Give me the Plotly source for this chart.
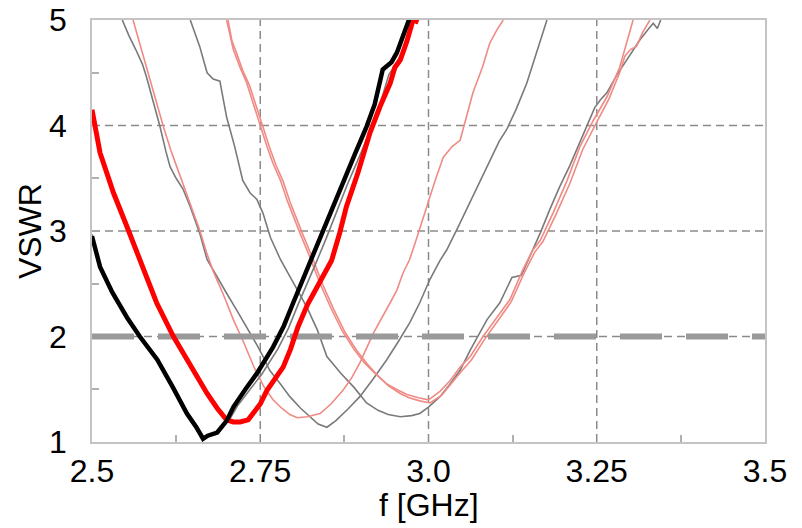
import plotly.graph_objects as go

# ---------------- data ----------------
black_f = [2.500, 2.512, 2.530, 2.552, 2.571, 2.597, 2.620, 2.641, 2.655, 2.665, 2.672, 2.686,
           2.700, 2.710, 2.728, 2.745, 2.769, 2.785, 2.799, 2.812, 2.824, 2.840, 2.855, 2.873,
           2.890, 2.908, 2.920, 2.932, 2.945, 2.953, 2.962, 2.972]
black_v = [2.95, 2.66, 2.42, 2.18, 2.00, 1.78, 1.52, 1.27, 1.14, 1.03, 1.06, 1.09,
           1.20, 1.33, 1.50, 1.65, 1.90, 2.10, 2.32, 2.52, 2.72, 2.95, 3.20, 3.48,
           3.72, 3.99, 4.20, 4.53, 4.60, 4.69, 4.85, 5.02]

grayk_f = [2.500, 2.512, 2.530, 2.552, 2.572, 2.598, 2.621, 2.642, 2.656, 2.666, 2.676, 2.690,
           2.705, 2.716, 2.735, 2.752, 2.776, 2.792, 2.806, 2.820, 2.833, 2.848, 2.863, 2.880,
           2.897, 2.914, 2.927, 2.941, 2.951, 2.960, 2.968, 2.978]
grayk_v = [2.97, 2.68, 2.44, 2.19, 2.01, 1.79, 1.53, 1.28, 1.15, 1.05, 1.07, 1.12,
           1.22, 1.34, 1.50, 1.64, 1.88, 2.08, 2.30, 2.50, 2.70, 2.93, 3.18, 3.45,
           3.70, 3.96, 4.18, 4.48, 4.58, 4.68, 4.84, 5.02]

red_f = [2.500, 2.505, 2.512, 2.522, 2.532, 2.552, 2.576, 2.596, 2.621, 2.641, 2.656, 2.671,
         2.686, 2.700, 2.710, 2.720, 2.732, 2.740, 2.750, 2.760, 2.772, 2.784, 2.795, 2.806,
         2.820, 2.838, 2.856, 2.868, 2.878, 2.895, 2.913, 2.928, 2.943, 2.950, 2.958, 2.968,
         2.977, 2.985]
red_v = [4.15, 3.95, 3.74, 3.55, 3.36, 3.04, 2.66, 2.32, 2.00, 1.78, 1.62, 1.46,
         1.32, 1.21, 1.19, 1.19, 1.21, 1.27, 1.36, 1.49, 1.60, 1.71, 1.88, 2.09,
         2.30, 2.50, 2.72, 2.98, 3.23, 3.55, 3.93, 4.18, 4.40, 4.55, 4.62, 4.80,
         5.00, 4.98]

gray1_f = [2.545, 2.555, 2.565, 2.575, 2.581, 2.590, 2.601, 2.610, 2.616, 2.625, 2.635, 2.646,
           2.660, 2.671, 2.685, 2.700, 2.715, 2.730, 2.745, 2.755, 2.764, 2.780, 2.794, 2.810,
           2.824, 2.836, 2.849, 2.862, 2.880, 2.898, 2.918, 2.938, 2.955, 2.972, 2.987, 3.002,
           3.017, 3.027, 3.045, 3.060, 3.072, 3.090, 3.105, 3.116, 3.130, 3.146, 3.160, 3.176]
gray1_v = [5.00, 4.85, 4.72, 4.58, 4.46, 4.25, 3.99, 3.75, 3.61, 3.50, 3.40, 3.23,
           2.98, 2.73, 2.57, 2.41, 2.25, 2.09, 1.92, 1.80, 1.68, 1.55, 1.43, 1.32,
           1.24, 1.17, 1.14, 1.20, 1.31, 1.43, 1.60, 1.78, 1.95, 2.13, 2.32, 2.54,
           2.72, 2.82, 3.05, 3.25, 3.42, 3.65, 3.85, 3.96, 4.15, 4.40, 4.68, 5.00]

gray2_f = [2.646, 2.660, 2.671, 2.680, 2.690, 2.700, 2.712, 2.724, 2.735, 2.745, 2.754, 2.765,
           2.780, 2.799, 2.819, 2.835, 2.849, 2.870, 2.889, 2.908, 2.925, 2.940, 2.958, 2.975,
           2.987, 3.000, 3.017, 3.032, 3.047, 3.062, 3.087, 3.106, 3.124, 3.138, 3.155, 3.166,
           3.180, 3.195, 3.210, 3.220, 3.235, 3.247, 3.255, 3.265, 3.280, 3.295, 3.305, 3.314,
           3.325, 3.334, 3.340, 3.345]
gray2_v = [5.00, 4.75, 4.50, 4.44, 4.42, 4.08, 3.80, 3.48, 3.36, 3.30, 3.17, 2.94,
           2.73, 2.51, 2.28, 2.06, 1.81, 1.65, 1.52, 1.37, 1.30, 1.26, 1.24, 1.25,
           1.27, 1.33, 1.43, 1.55, 1.68, 1.87, 2.16, 2.32, 2.56, 2.58, 2.82, 2.98,
           3.20, 3.42, 3.62, 3.77, 3.99, 4.17, 4.24, 4.31, 4.48, 4.62, 4.72, 4.81,
           4.90, 4.97, 4.92, 5.00]

pink1_f = [2.561, 2.571, 2.581, 2.594, 2.606, 2.618, 2.631, 2.645, 2.660, 2.670, 2.680, 2.695,
           2.710, 2.725, 2.740, 2.755, 2.769, 2.782, 2.794, 2.805, 2.820, 2.839, 2.855, 2.873,
           2.886, 2.898, 2.918, 2.943, 2.953, 2.962, 2.972, 2.985, 2.997, 3.010, 3.022, 3.035,
           3.047, 3.057, 3.066, 3.080, 3.091, 3.101, 3.111]
pink1_v = [5.00, 4.78, 4.56, 4.25, 3.99, 3.75, 3.52, 3.28, 3.01, 2.80, 2.62, 2.40,
           2.16, 1.95, 1.72, 1.53, 1.40, 1.32, 1.26, 1.23, 1.24, 1.27, 1.36, 1.49,
           1.61, 1.75, 2.03, 2.32, 2.44, 2.60, 2.73, 2.98, 3.23, 3.48, 3.70, 3.80,
           3.86, 4.10, 4.31, 4.55, 4.78, 4.90, 5.00]

pink2_f = [2.700, 2.705, 2.710, 2.720, 2.730, 2.740, 2.750, 2.760, 2.769, 2.780, 2.790, 2.800,
           2.809, 2.822, 2.839, 2.855, 2.872, 2.889, 2.905, 2.919, 2.938, 2.955, 2.968, 2.985,
           3.000, 3.017, 3.032, 3.047, 3.062, 3.081, 3.101, 3.121, 3.140, 3.155, 3.166, 3.185,
           3.206, 3.225, 3.245, 3.265, 3.284, 3.294, 3.304]
pink2_v = [5.00, 4.85, 4.72, 4.55, 4.40, 4.20, 3.99, 3.80, 3.64, 3.48, 3.29, 3.12,
           2.98, 2.78, 2.50, 2.27, 2.05, 1.88, 1.75, 1.66, 1.55, 1.49, 1.45, 1.42,
           1.40, 1.48, 1.58, 1.71, 1.81, 2.00, 2.18, 2.35, 2.63, 2.82, 2.91, 3.17,
           3.48, 3.80, 4.05, 4.27, 4.55, 4.78, 5.00]

pink3_f = [2.702, 2.708, 2.714, 2.724, 2.734, 2.744, 2.754, 2.764, 2.773, 2.784, 2.794, 2.804,
           2.813, 2.826, 2.843, 2.859, 2.876, 2.893, 2.909, 2.923, 2.941, 2.958, 2.971, 2.987,
           3.002, 3.019, 3.033, 3.049, 3.064, 3.084, 3.103, 3.123, 3.142, 3.158, 3.170, 3.189,
           3.210, 3.229, 3.249, 3.268, 3.284, 3.292, 3.300, 3.309, 3.318, 3.329]
pink3_v = [5.00, 4.80, 4.70, 4.52, 4.38, 4.18, 3.98, 3.79, 3.63, 3.47, 3.28, 3.11,
           2.97, 2.77, 2.49, 2.26, 2.04, 1.87, 1.74, 1.64, 1.53, 1.46, 1.42, 1.39,
           1.37, 1.44, 1.55, 1.67, 1.78, 1.98, 2.15, 2.33, 2.60, 2.80, 2.90, 3.15,
           3.45, 3.77, 4.02, 4.25, 4.50, 4.66, 4.72, 4.75, 4.88, 5.00]

vswr_limit = 2.0
x_tick_vals = [2.5, 2.75, 3.0, 3.25, 3.5]
x_tick_text = ["2.5", "2.75", "3.0", "3.25", "3.5"]
y_tick_vals = [1, 2, 3, 4, 5]
y_tick_text = ["1", "2", "3", "4", "5"]
x_minor = [2.625, 2.875, 3.125, 3.375]
y_minor = [1.5, 2.5, 3.5, 4.5]
x_grid = [2.75, 3.0, 3.25]
y_grid = [2, 3, 4]
x_range = [2.5, 3.5]
y_range = [1, 5]
x_title = "f [GHz]"
y_title = "VSWR"

# ---------------- figure ----------------
GRAY = "#7a7a7a"
PINK = "#f08a84"
FONT = "Liberation Sans, Arial, sans-serif"

fig = go.Figure()

thin = dict(mode="lines", hoverinfo="skip", showlegend=False)
fig.add_trace(go.Scatter(x=gray1_f, y=gray1_v, line=dict(color=GRAY, width=1.6), **thin))
fig.add_trace(go.Scatter(x=gray2_f, y=gray2_v, line=dict(color=GRAY, width=1.6), **thin))
fig.add_trace(go.Scatter(x=pink1_f, y=pink1_v, line=dict(color=PINK, width=1.6), **thin))
fig.add_trace(go.Scatter(x=pink2_f, y=pink2_v, line=dict(color=PINK, width=1.6), **thin))
fig.add_trace(go.Scatter(x=pink3_f, y=pink3_v, line=dict(color=PINK, width=1.6), **thin))
fig.add_trace(go.Scatter(x=grayk_f, y=grayk_v, line=dict(color=GRAY, width=1.6), **thin))

# thick dashed VSWR = 2 limit line
fig.add_trace(go.Scatter(x=x_range, y=[vswr_limit, vswr_limit], mode="lines",
                         line=dict(color="#9a9a9a", width=6, dash="42px,24px"),
                         hoverinfo="skip", showlegend=False))

fig.add_trace(go.Scatter(x=red_f, y=red_v, line=dict(color="#ff0000", width=5), **thin))
fig.add_trace(go.Scatter(x=black_f, y=black_v, line=dict(color="#000000", width=4.5), **thin))

# dashed grid
for xv in x_grid:
    fig.add_shape(type="line", x0=xv, x1=xv, y0=y_range[0], y1=y_range[1], xref="x", yref="y",
                  line=dict(color="#8a8a8a", width=1.5, dash="8px,5px"), layer="below")
for yv in y_grid:
    fig.add_shape(type="line", x0=x_range[0], x1=x_range[1], y0=yv, y1=yv, xref="x", yref="y",
                  line=dict(color="#8a8a8a", width=1.5, dash="8px,5px"), layer="below")

axis_common = dict(showgrid=False, zeroline=False, showline=True, linecolor="#c4c4c4",
                   linewidth=1.5, mirror=True, ticks="", tickfont=dict(family=FONT, size=32, color="#000"))

fig.update_xaxes(range=x_range, tickmode="array", tickvals=x_tick_vals, ticktext=x_tick_text,
                 ticklabelstandoff=0,
                 minor=dict(tickvals=x_minor, ticks="inside", ticklen=7, tickcolor="#b0b0b0", tickwidth=1.5),
                 **axis_common)
fig.update_yaxes(range=y_range, tickmode="array", tickvals=y_tick_vals, ticktext=y_tick_text,
                 ticklabelstandoff=17,
                 minor=dict(tickvals=y_minor, ticks="inside", ticklen=7, tickcolor="#b0b0b0", tickwidth=1.5),
                 **axis_common)

# axis titles as annotations (precise placement)
fig.add_annotation(text=y_title, xref="paper", yref="paper", x=-0.092, y=0.50,
                   xanchor="center", yanchor="middle", textangle=-90, showarrow=False,
                   font=dict(family=FONT, size=32, color="#000"))
fig.add_annotation(text=x_title, xref="paper", yref="paper", x=0.5, y=-0.149,
                   xanchor="center", yanchor="middle", showarrow=False,
                   font=dict(family=FONT, size=32, color="#000"))

fig.update_layout(width=802, height=528, margin=dict(l=92, r=37, t=20, b=86, autoexpand=False),
                  plot_bgcolor="white", paper_bgcolor="white", font=dict(family=FONT))

fig.write_html("out.html")
